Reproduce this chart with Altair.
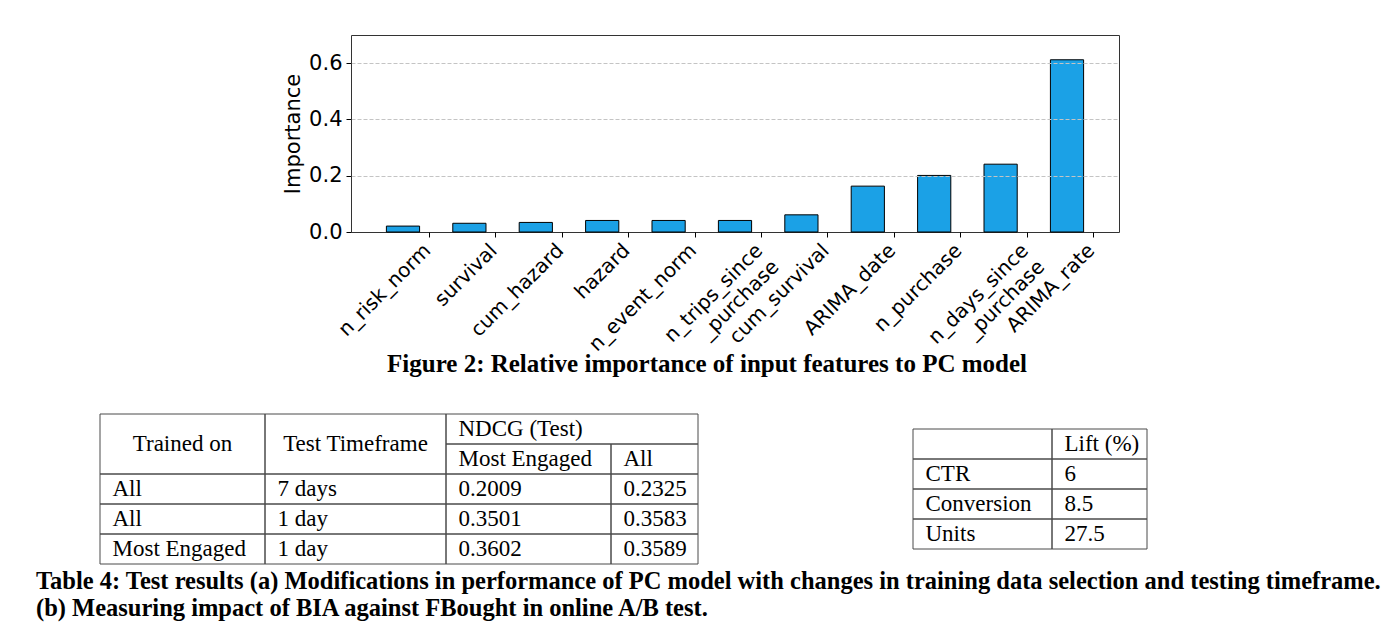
import altair as alt
import pandas as pd

# ---------------- data ----------------
features = ["n_risk_norm", "survival", "cum_hazard", "hazard", "n_event_norm",
            "n_trips_since\n_purchase", "cum_survival", "ARIMA_date", "n_purchase",
            "n_days_since\n_purchase", "ARIMA_rate"]
importance = [0.021, 0.031, 0.034, 0.041, 0.041, 0.041, 0.061, 0.163, 0.201, 0.241, 0.612]
y_ticks = [0.0, 0.2, 0.4, 0.6]

fig_caption = "Figure 2: Relative importance of input features to PC model"
table_caption = [
    "Table 4: Test results (a) Modifications in performance of PC model with changes in training data selection and testing timeframe.",
    "(b) Measuring impact of BIA against FBought in online A/B test.",
]

# table (a)
a_header_top = ["Trained on", "Test Timeframe", "NDCG (Test)"]
a_header_sub = ["Most Engaged", "All"]
a_trained_on = ["All", "All", "Most Engaged"]
a_timeframe = ["7 days", "1 day", "1 day"]
a_ndcg_engaged = ["0.2009", "0.3501", "0.3602"]
a_ndcg_all = ["0.2325", "0.3583", "0.3589"]

# table (b)
b_header = ["", "Lift (%)"]
b_metric = ["CTR", "Conversion", "Units"]
b_lift = ["6", "8.5", "27.5"]

# ---------------- table cell structures (row/col edge indices) ----------------
a_cells = [
    dict(text=a_header_top[0], r0=0, r1=2, c0=0, c1=1, al="center"),
    dict(text=a_header_top[1], r0=0, r1=2, c0=1, c1=2, al="center"),
    dict(text=a_header_top[2], r0=0, r1=1, c0=2, c1=4, al="left"),
    dict(text=a_header_sub[0], r0=1, r1=2, c0=2, c1=3, al="left"),
    dict(text=a_header_sub[1], r0=1, r1=2, c0=3, c1=4, al="left"),
]
for i in range(3):
    for j, col in enumerate([a_trained_on, a_timeframe, a_ndcg_engaged, a_ndcg_all]):
        a_cells.append(dict(text=col[i], r0=2 + i, r1=3 + i, c0=j, c1=j + 1, al="left"))
a_df = pd.DataFrame(a_cells)
a_df["cx"] = (a_df["c0"] + a_df["c1"]) / 2
a_df["ry"] = (a_df["r0"] + a_df["r1"]) / 2

b_cells = [
    dict(text=b_header[0], r0=0, r1=1, c0=0, c1=1, al="left"),
    dict(text=b_header[1], r0=0, r1=1, c0=1, c1=2, al="left"),
]
for i in range(3):
    b_cells.append(dict(text=b_metric[i], r0=1 + i, r1=2 + i, c0=0, c1=1, al="left"))
    b_cells.append(dict(text=b_lift[i], r0=1 + i, r1=2 + i, c0=1, c1=2, al="left"))
b_df = pd.DataFrame(b_cells)
b_df["ry"] = (b_df["r0"] + b_df["r1"]) / 2

# ---------------- layout / style ----------------
SERIF = "Liberation Serif"
SANS = "DejaVu Sans"
LINE = "#4a4a4a"
TXT = 23

a_xscale = alt.Scale(domain=[0, 1, 2, 3, 4], range=[0, 165, 346, 511, 598], nice=False, zero=False)
a_yscale = alt.Scale(domain=[0, 5], range=[0, 150], nice=False, zero=False)
b_xscale = alt.Scale(domain=[0, 1, 2], range=[813, 952, 1047], nice=False, zero=False)
b_yscale = alt.Scale(domain=[0, 4], range=[15, 135], nice=False, zero=False)


def table_layers(df, xs, ys):
    base = alt.Chart(df)
    rect = base.mark_rect(fill="white", fillOpacity=0, stroke=LINE, strokeWidth=1).encode(
        x=alt.X("c0:Q", scale=xs, axis=None), x2="c1:Q",
        y=alt.Y("r0:Q", scale=ys, axis=None), y2="r1:Q")
    t_left = base.transform_filter("datum.al == 'left'").mark_text(
        align="left", baseline="middle", dx=12.5, font=SERIF, fontSize=TXT, color="black").encode(
        x=alt.X("c0:Q", scale=xs, axis=None), y=alt.Y("ry:Q", scale=ys, axis=None), text="text:N")
    layers = [rect, t_left]
    if "cx" in df.columns:
        t_center = base.transform_filter("datum.al == 'center'").mark_text(
            align="center", baseline="middle", font=SERIF, fontSize=TXT, color="black").encode(
            x=alt.X("cx:Q", scale=xs, axis=None), y=alt.Y("ry:Q", scale=ys, axis=None), text="text:N")
        layers.append(t_center)
    return alt.layer(*layers)


tables = alt.layer(
    table_layers(a_df, a_xscale, a_yscale),
    table_layers(b_df, b_xscale, b_yscale),
).resolve_scale(x="independent", y="independent").properties(
    width=1270, height=150,
    view=alt.ViewBackground(strokeOpacity=0),
    title=alt.TitleParams(table_caption, orient="bottom", anchor="start", frame="group",
                          dx=-64, offset=5, baseline="top", font=SERIF, fontSize=24.5,
                          fontWeight="bold", color="black", lineHeight=27),
)

bar_df = pd.DataFrame({"feature": features, "importance": importance})

bars = alt.Chart(bar_df).mark_bar(color="#1ba1e6", stroke="black", strokeWidth=1).encode(
    x=alt.X("feature:N", sort=features,
            scale=alt.Scale(paddingInner=0.5, paddingOuter=0.533),
            axis=alt.Axis(title=None, labelAngle=-45, labelAlign="right", labelBaseline="top",
                          labelExpr="split(datum.label, '\\n')", labelFont=SANS, labelFontSize=20,
                          labelColor="black", labelLineHeight=23, tickColor="black", tickSize=5,
                          tickOffset=26, labelOffset=-9, labelPadding=3, domain=False, grid=False)),
    y=alt.Y("importance:Q", scale=alt.Scale(domain=[0, 0.7], nice=False),
            axis=alt.Axis(title="Importance", values=y_ticks, format=".1f", labelFont=SANS,
                          labelFontSize=21, labelColor="black", tickColor="black", tickSize=5,
                          labelPadding=4, titleFont=SANS, titleFontSize=21, titleFontWeight="normal",
                          titleColor="black", titlePadding=5, domain=False, grid=True,
                          gridDash=[4, 2], gridColor="#c4c4c4", gridWidth=1,
                          gridOpacity=alt.condition("datum.value == 0", alt.value(0), alt.value(1)),
                          zindex=1)),
).properties(
    width=768, height=197,
    view=alt.ViewBackground(stroke="#333333", strokeWidth=1),
    title=alt.TitleParams(fig_caption, orient="bottom", anchor="middle", frame="group", dx=-28,
                          offset=-12, baseline="top", font=SERIF, fontSize=25, fontWeight="bold",
                          color="black"),
)

chart = alt.vconcat(bars, tables, spacing=182, bounds="flush", center=True).properties(
    padding={"left": 36, "top": 34, "right": 10, "bottom": 10},
    background="white",
)

chart.save("out.html", embed_options={"renderer": "svg", "actions": False})
